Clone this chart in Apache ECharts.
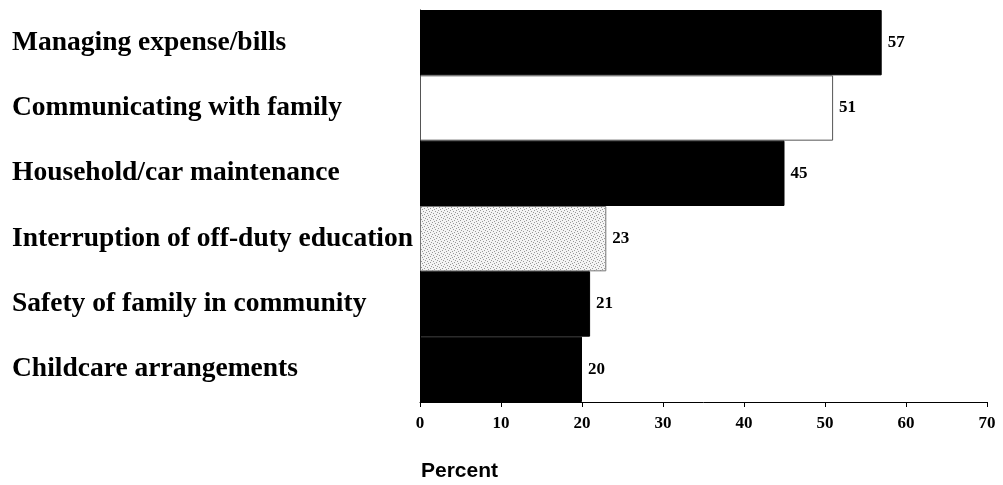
<!DOCTYPE html>
<html><head><meta charset="utf-8">
<script src="https://cdn.jsdelivr.net/npm/echarts@6/dist/echarts.min.js"></script>
<style>html,body{margin:0;padding:0;background:#fff}#c{width:1003px;height:485px}</style>
</head><body><div id="c"></div>
<script>
const categories = ["Managing expense/bills","Communicating with family","Household/car maintenance","Interruption of off-duty education","Safety of family in community","Childcare arrangements"];
const values = [57, 51, 45, 23, 21, 20];
const xTicks = [0, 10, 20, 30, 40, 50, 60, 70];

// stipple pattern for the "education" bar
const pc = document.createElement('canvas');
pc.width = 6; pc.height = 6;
const pctx = pc.getContext('2d');
pctx.fillStyle = '#f4f4f4'; pctx.fillRect(0,0,6,6);
pctx.fillStyle = '#999';
[[0,0],[3,1],[1,3],[4,4],[2,5],[5,2]].forEach(p=>pctx.fillRect(p[0],p[1],1,1));

const styles = [
  {color:'#000', borderColor:'#000', borderWidth:1},
  {color:'#fff', borderColor:'#555', borderWidth:1},
  {color:'#000', borderColor:'#000', borderWidth:1},
  {color:{image:pc, repeat:'repeat'}, borderColor:'#777', borderWidth:1},
  {color:'#000', borderColor:'#000', borderWidth:1},
  {color:'#000', borderColor:'#000', borderWidth:1}
];

const chart = echarts.init(document.getElementById('c'));
chart.setOption({
  animation:false,
  title:{text:'Percent', left:416, top:456, textStyle:{fontFamily:'Liberation Sans', fontWeight:'bold', fontSize:21, color:'#000'}},
  grid:{left:420, right:16, top:10, bottom:83},
  xAxis:{type:'value', min:0, max:70, interval:10,
    axisLine:{show:true, lineStyle:{color:'#000', width:1}},
    axisTick:{show:true, length:5, lineStyle:{color:'#000'}},
    splitLine:{show:false},
    axisLabel:{margin:13, fontFamily:'Liberation Serif', fontWeight:'bold', fontSize:17, color:'#000',
      formatter:v=>xTicks.includes(v)?String(v):''}
  },
  yAxis:{type:'category', data:categories, inverse:true,
    axisLine:{show:true, lineStyle:{color:'#000', width:1}},
    axisTick:{show:false},
    axisLabel:{align:'left', margin:408, fontFamily:'Liberation Serif', fontWeight:'bold', fontSize:27.5, color:'#000'}
  },
  series:[{type:'bar', barCategoryGap:'0%',
    data: values.map((v,i)=>({value:v, itemStyle:styles[i]})),
    label:{show:true, position:'right', distance:6, fontFamily:'Liberation Serif', fontWeight:'bold', fontSize:17, color:'#000'}
  }]
});
</script></body></html>
